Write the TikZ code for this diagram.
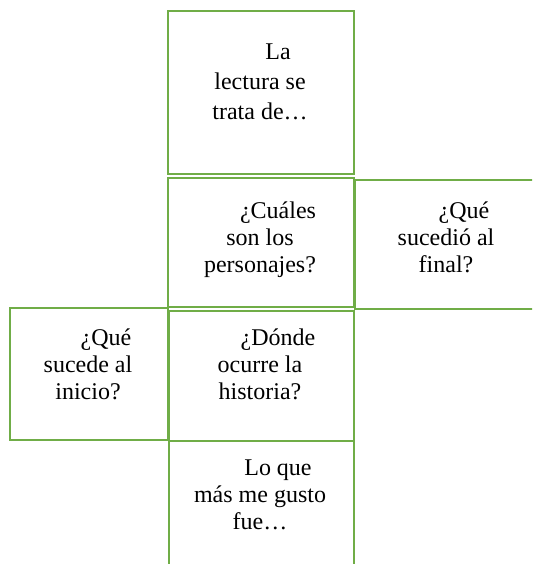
\documentclass[tikz,border=0pt]{standalone}
\usepackage{fontspec}
\setmainfont{Liberation Serif}
\definecolor{boxgreen}{HTML}{70AD47}
\begin{document}
\begin{tikzpicture}[x=1pt,y=-1pt,
  box/.style={draw=boxgreen, line width=2pt, rectangle, inner sep=0pt, anchor=north west},
  txt/.style={anchor=base, inner sep=0pt, font=\fontsize{24}{27}\selectfont},
  txttop/.style={anchor=base, inner sep=0pt, font=\fontsize{24}{30}\selectfont}]
\useasboundingbox (0,0) rectangle (532,564);
\clip (0,0) rectangle (532,564);
% boxes
\node[box, minimum width=186pt, minimum height=163pt] (a) at (167,10) {};
\node[box, minimum width=186pt, minimum height=129pt] (b) at (167,177) {};
\node[box, minimum width=186pt, minimum height=129pt] (c) at (354,179) {};
\node[box, minimum width=158pt, minimum height=132pt] (d) at (9,307) {};
\node[box, minimum width=185pt, minimum height=130pt] (e) at (168,310) {};
\node[box, minimum width=185pt, minimum height=140pt] (f) at (168,440) {};
% texts
\node[txttop] (ta) at (260,60) {\begin{tabular}[t]{@{}c@{}}\hspace*{36pt}La\\lectura se\\trata de…\end{tabular}};
\node[txt] (tb) at (260,218) {\begin{tabular}[t]{@{}c@{}}\hspace*{36pt}¿Cuáles\\son los\\personajes?\end{tabular}};
\node[txt] (tc) at (446,218) {\begin{tabular}[t]{@{}c@{}}\hspace*{36pt}¿Qué\\sucedió al\\final?\end{tabular}};
\node[txt] (td) at (88,345) {\begin{tabular}[t]{@{}c@{}}\hspace*{36pt}¿Qué\\sucede al\\inicio?\end{tabular}};
\node[txt] (te) at (260,345) {\begin{tabular}[t]{@{}c@{}}\hspace*{36pt}¿Dónde\\ocurre la\\historia?\end{tabular}};
\node[txt] (tf) at (260,475) {\begin{tabular}[t]{@{}c@{}}\hspace*{36pt}Lo que\\más me gusto\\fue…\end{tabular}};
\end{tikzpicture}
\end{document}
